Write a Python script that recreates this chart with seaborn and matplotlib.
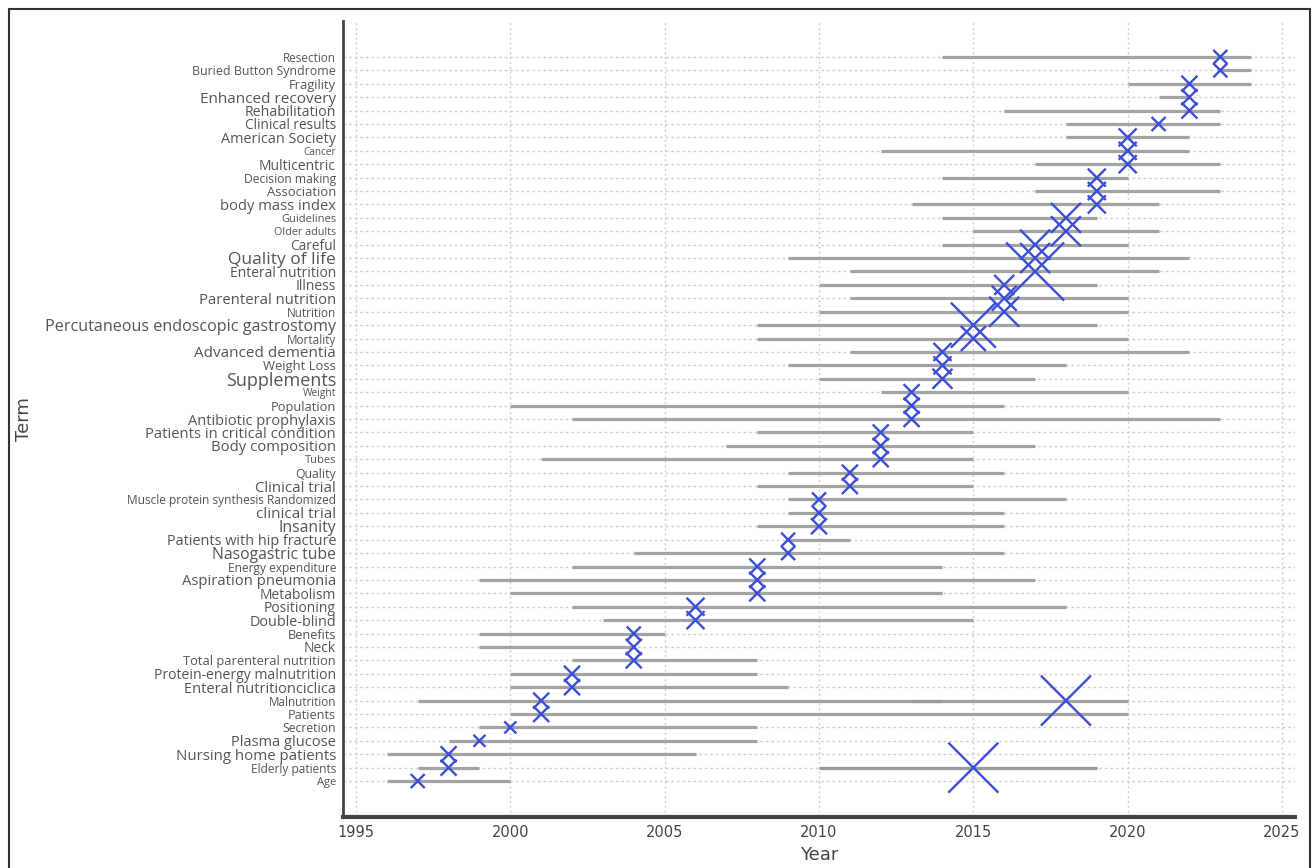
import numpy as np
import pandas as pd
import matplotlib
matplotlib.use("Agg")
import matplotlib.pyplot as plt
from matplotlib.patches import Rectangle
import seaborn as sns

sns.set_theme(style="white")
plt.rcParams['font.family'] = ['DejaVu Sans']

# terms, top to bottom
terms = ["Resection", "Buried Button Syndrome", "Fragility", "Enhanced recovery", "Rehabilitation",
         "Clinical results", "American Society", "Cancer", "Multicentric", "Decision making",
         "Association", "body mass index", "Guidelines", "Older adults", "Careful",
         "Quality of life", "Enteral nutrition", "Illness", "Parenteral nutrition", "Nutrition",
         "Percutaneous endoscopic gastrostomy", "Mortality", "Advanced dementia", "Weight Loss", "Supplements",
         "Weight", "Population", "Antibiotic prophylaxis", "Patients in critical condition", "Body composition",
         "Tubes", "Quality", "Clinical trial", "Muscle protein synthesis Randomized", "clinical trial",
         "Insanity", "Patients with hip fracture", "Nasogastric tube", "Energy expenditure", "Aspiration pneumonia",
         "Metabolism", "Positioning", "Double-blind", "Benefits", "Neck",
         "Total parenteral nutrition", "Protein-energy malnutrition", "Enteral nutritionciclica", "Malnutrition", "Patients",
         "Secretion", "Plasma glucose", "Nursing home patients", "Elderly patients", "Age"]

year_start = [2014, 2023, 2020, 2021, 2016,
              2018, 2018, 2012, 2017, 2014,
              2017, 2013, 2014, 2015, 2014,
              2009, 2011, 2010, 2011, 2010,
              2008, 2008, 2011, 2009, 2010,
              2012, 2000, 2002, 2008, 2007,
              2001, 2009, 2008, 2009, 2009,
              2008, 2009, 2004, 2002, 1999,
              2000, 2002, 2003, 1999, 1999,
              2002, 2000, 2000, 1997, 2000,
              1999, 1998, 1996, 1997, 1996]

year_end = [2024, 2024, 2024, 2022, 2023,
            2023, 2022, 2022, 2023, 2020,
            2023, 2021, 2019, 2021, 2020,
            2022, 2021, 2019, 2020, 2020,
            2019, 2020, 2022, 2018, 2017,
            2020, 2016, 2023, 2015, 2017,
            2015, 2016, 2015, 2018, 2016,
            2016, 2011, 2016, 2014, 2017,
            2014, 2018, 2015, 2005, 2004,
            2008, 2008, 2009, 2020, 2020,
            2008, 2008, 2006, 1999, 2000]

peak_year = [2023, 2023, 2022, 2022, 2022,
             2021, 2020, 2020, 2020, 2019,
             2019, 2019, 2018, 2018, 2017,
             2017, 2017, 2016, 2016, 2016,
             2015, 2015, 2014, 2014, 2014,
             2013, 2013, 2013, 2012, 2012,
             2012, 2011, 2011, 2010, 2010,
             2010, 2009, 2009, 2008, 2008,
             2008, 2006, 2006, 2004, 2004,
             2004, 2002, 2002, 2001, 2001,
             2000, 1999, 1998, 1998, 1997]

peak_count = [49, 49, 64, 64, 64,
              49, 81, 81, 81, 81,
              81, 81, 225, 225, 225,
              225, 841, 100, 156, 225,
              506, 156, 81, 81, 100,
              64, 64, 64, 64, 64,
              64, 64, 64, 49, 49,
              64, 49, 49, 64, 64,
              64, 81, 81, 49, 64,
              64, 64, 64, 64, 64,
              36, 36, 64, 64, 49]

# second bursts
extra_terms = ["Malnutrition", "Elderly patients"]
extra_start = [2013, 2010]
extra_end = [2014, 2019]
extra_peak = [2018, 2015]
extra_count = [625, 625]

# label font sizes (style only)
label_fs = {
    "Resection": 8.5, "Buried Button Syndrome": 8.9, "Fragility": 9.3, "Enhanced recovery": 11,
    "Rehabilitation": 10.2, "Clinical results": 9.8, "American Society": 10.4, "Cancer": 7.2,
    "Multicentric": 10, "Decision making": 8.7, "Association": 9.4, "body mass index": 10.6,
    "Guidelines": 8, "Older adults": 7.8, "Careful": 9.8, "Quality of life": 12.5,
    "Enteral nutrition": 10, "Illness": 10, "Parenteral nutrition": 10.7, "Nutrition": 8.5,
    "Percutaneous endoscopic gastrostomy": 11.6, "Mortality": 8.5, "Advanced dementia": 11,
    "Weight Loss": 9.4, "Supplements": 13, "Weight": 7.4, "Population": 9.3,
    "Antibiotic prophylaxis": 10.5, "Patients in critical condition": 10.6, "Body composition": 10.7,
    "Tubes": 8, "Quality": 8.8, "Clinical trial": 10.8, "Muscle protein synthesis Randomized": 8.6,
    "clinical trial": 11, "Insanity": 11.3, "Patients with hip fracture": 10.4, "Nasogastric tube": 11.3,
    "Energy expenditure": 8.6, "Aspiration pneumonia": 10.7, "Metabolism": 10, "Positioning": 10,
    "Double-blind": 10.4, "Benefits": 9.2, "Neck": 10, "Total parenteral nutrition": 9.3,
    "Protein-energy malnutrition": 10.1, "Enteral nutritionciclica": 10.5, "Malnutrition": 8.4,
    "Patients": 9.2, "Secretion": 8.8, "Plasma glucose": 10.5, "Nursing home patients": 10.8,
    "Elderly patients": 8.6, "Age": 8,
}

df = pd.DataFrame({"term": terms, "start": year_start, "end": year_end,
                   "peak": peak_year, "count": peak_count})
df["pos"] = np.arange(len(df))
ex = pd.DataFrame({"term": extra_terms, "start": extra_start, "end": extra_end,
                   "peak": extra_peak, "count": extra_count})
ex["pos"] = ex["term"].map(dict(zip(df["term"], df["pos"])))

fig = plt.figure(figsize=(13.14, 8.68), dpi=100)
ax = fig.add_axes([343 / 1314, 51 / 868, (1295 - 343) / 1314, (847 - 51) / 868])

ax.hlines(df["pos"], df["start"], df["end"], color="#a3a3a3", lw=2.3, zorder=2)
ax.hlines(ex["pos"], ex["start"], ex["end"], color="#9a9a9a", lw=2.3, zorder=2)

marks = pd.concat([df, ex], ignore_index=True)
px = 0.72
sns.scatterplot(data=marks, x="peak", y="pos", size="count",
                sizes=((12 * px) ** 2, (58 * px) ** 2), size_norm=(36, 841),
                marker="x", color="#3b4fd6", linewidth=1.7, legend=False, ax=ax, zorder=3)

ax.set_xlim(1994.58, 2025.42)
ax.set_ylim(56.68, -2.68)
ax.set_xticks(range(1995, 2026, 5))
ax.set_yticks(df["pos"])
ax.set_yticklabels(df["term"])
for lab in ax.get_yticklabels():
    lab.set_fontsize(label_fs.get(lab.get_text(), 9))
    lab.set_fontfamily(["Open Sans", "DejaVu Sans"])
    lab.set_color("#555555")

ax.tick_params(axis="x", direction="in", length=4, width=1.2, colors="#444444",
               labelsize=10.5, pad=6)
ax.tick_params(axis="y", direction="in", length=3, width=1.2, color="#444444", pad=5)
for lab in ax.get_xticklabels():
    lab.set_color("#444444")

ax.grid(axis="y", color="#d0d0d0", linestyle=(0, (2, 2)), lw=1.0, zorder=0)
ax.grid(axis="x", color="#d0d0d0", linestyle=(0, (1.5, 2)), lw=1.0, zorder=0)
ax.set_axisbelow(True)

sns.despine(ax=ax, top=True, right=True)
ax.spines["left"].set_color("#444444")
ax.spines["left"].set_linewidth(2)
ax.spines["bottom"].set_color("#444444")
ax.spines["bottom"].set_linewidth(3)

ax.set_xlabel("Year", fontsize=13, color="#444444", labelpad=4)
ax.set_ylabel("Term", fontsize=13, color="#444444")
ax.yaxis.set_label_coords(-310 / (1295 - 343), 0.5)

fig.add_artist(Rectangle((9 / 1314, -0.05), (1310 - 9) / 1314, 1.05 - 9 / 868,
                         transform=fig.transFigure, fill=False, edgecolor="#333333", lw=1.5))

fig.savefig("out.png", dpi=100)
